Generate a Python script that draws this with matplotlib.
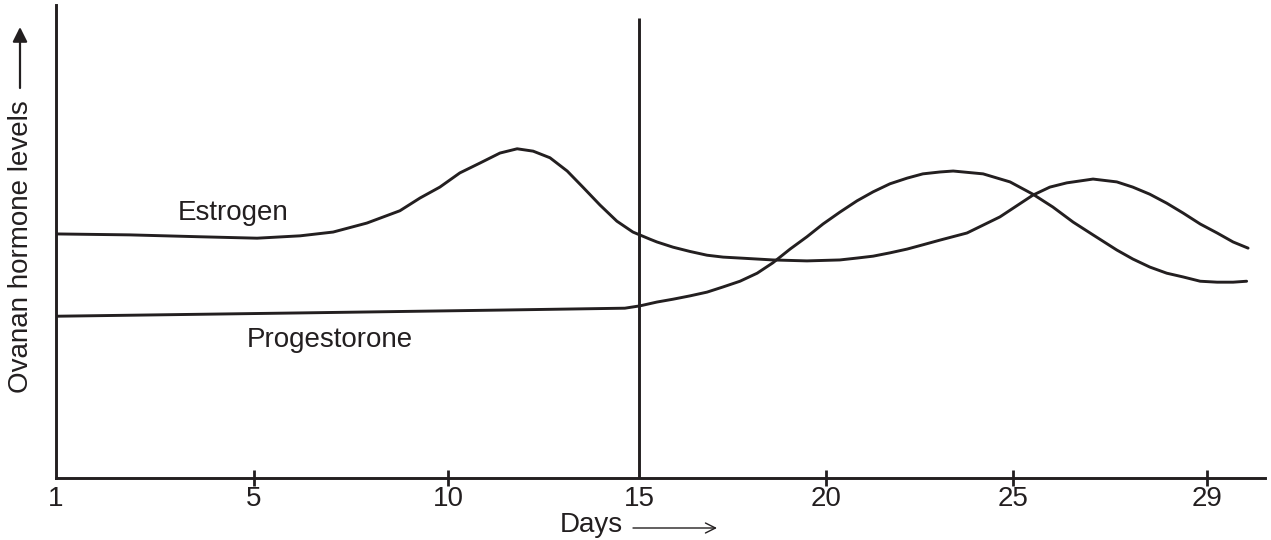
import numpy as np
import matplotlib
matplotlib.use('Agg')
import matplotlib.pyplot as plt

plt.rcParams['font.family'] = ['Liberation Sans', 'DejaVu Sans']

# jours du cycle (axe x)
tick_days = [1, 5, 10, 15, 20, 25, 29]
tick_labels = ['1', '5', '10', '15', '20', '25', '29']
ovulation_day = 15

# niveaux relatifs (0 = axe, 100 = haut)
estrogen_days = [1.0, 2.49, 3.91, 5.08, 6.19, 7.04, 7.91, 8.76, 9.28, 9.79,
                 10.31, 10.84, 11.36, 11.81, 12.23, 12.67, 13.12, 13.53, 13.98,
                 14.42, 14.84, 15.29, 15.48, 15.91, 16.36, 16.82, 17.25, 17.70,
                 18.58, 19.49, 20.37, 20.83, 21.26, 21.71, 22.17, 22.59, 23.05,
                 23.77, 24.65, 25.41, 25.76, 26.11, 26.65, 27.14, 27.47, 27.82,
                 28.17, 28.51, 28.86, 29.21, 29.54, 29.85]
estrogen_level = [51.6, 51.4, 51.0, 50.7, 51.2, 52.0, 53.9, 56.5, 59.2, 61.5,
                  64.5, 66.6, 68.7, 69.6, 69.1, 67.7, 64.9, 61.5, 57.7,
                  54.3, 52.0, 50.5, 49.9, 48.8, 47.9, 47.1, 46.7, 46.5,
                  46.1, 45.9, 46.1, 46.5, 46.9, 47.6, 48.4, 49.3, 50.3,
                  51.8, 55.2, 59.8, 61.5, 62.4, 63.2, 62.6, 61.5, 60.0,
                  58.1, 56.0, 53.7, 51.8, 49.9, 48.6]

progesterone_days = [1.0, 6.19, 11.36, 14.63, 15.03, 15.48, 15.91, 16.36, 16.82,
                     17.25, 17.70, 18.16, 18.58, 19.04, 19.49, 19.92, 20.37,
                     20.83, 21.26, 21.71, 22.17, 22.59, 23.05, 23.40, 24.20,
                     24.92, 25.41, 25.82, 26.24, 26.65, 27.14, 27.47, 27.82,
                     28.17, 28.51, 28.86, 29.21, 29.54, 29.82]
progesterone_level = [34.2, 34.9, 35.5, 35.9, 36.4, 37.2, 37.8, 38.5, 39.3,
                      40.4, 41.6, 43.3, 45.5, 48.4, 51.0, 53.7, 56.2,
                      58.6, 60.5, 62.2, 63.4, 64.3, 64.7, 64.9, 64.3,
                      62.6, 60.0, 57.3, 54.1, 51.4, 48.2, 46.3, 44.6,
                      43.3, 42.5, 41.6, 41.4, 41.4, 41.6]

# espacement irrégulier des graduations sur le dessin original
axis_days = [1, 5, 10, 15, 20, 25, 29, 30.2]
axis_pos = [0, 198, 392, 583, 770, 957, 1151, 1209]


def forward(d):
    return np.interp(d, axis_days, axis_pos)


def inverse(p):
    return np.interp(p, axis_pos, axis_days)


ink = '#231f20'
W, H = 1271, 540

fig = plt.figure(figsize=(W / 100, H / 100), dpi=100)
ax = fig.add_axes([56 / W, 62 / H, 1209 / W, 473 / H])
ax.set_xscale('function', functions=(forward, inverse))
ax.set_xlim(1, 30.2)
ax.set_ylim(0, 100)

ax.plot(estrogen_days, estrogen_level, color=ink, lw=2.1,
        solid_joinstyle='round', solid_capstyle='round')
ax.plot(progesterone_days, progesterone_level, color=ink, lw=2.1,
        solid_joinstyle='round', solid_capstyle='round')
ax.vlines(ovulation_day, 0, 97.3, color=ink, lw=2.1)

ax.text(4.58, 56.0, 'Estrogen', ha='center', va='center', fontsize=20, color=ink)
ax.text(6.96, 29.2, 'Progestorone', ha='center', va='center', fontsize=20, color=ink)

for s in ['top', 'right']:
    ax.spines[s].set_visible(False)
for s in ['left', 'bottom']:
    ax.spines[s].set_linewidth(2.1)
    ax.spines[s].set_color(ink)

ax.set_yticks([])
ax.set_xticks(tick_days)
ax.set_xticklabels(tick_labels)
ax.xaxis.set_minor_locator(matplotlib.ticker.NullLocator())
ax.tick_params(axis='x', direction='inout', length=11.5, width=2, color=ink,
               labelsize=20, labelcolor=ink, pad=0)
ticks = ax.xaxis.get_major_ticks()
ticks[0].tick1line.set_visible(False)
ticks[3].tick1line.set_visible(False)

# titres des axes avec flèches
fig.text(21 / W, 1 - 247 / H, 'Ovanan hormone levels', rotation=90,
         ha='center', va='center', fontsize=20, color=ink)
ax.annotate('', xy=(20, H - 27), xytext=(20, H - 88), xycoords='figure pixels',
            textcoords='figure pixels',
            arrowprops=dict(arrowstyle='-|>', lw=1.6, color=ink, mutation_scale=22,
                            shrinkA=0, shrinkB=0))
fig.text(591 / W, 1 - 525 / H, 'Days', ha='center', va='center', fontsize=20, color=ink)
ax.annotate('', xy=(717, H - 528), xytext=(633, H - 528), xycoords='figure pixels',
            textcoords='figure pixels',
            arrowprops=dict(arrowstyle='->', lw=1.0, color=ink, mutation_scale=18,
                            shrinkA=0, shrinkB=0))

fig.savefig('out.png', dpi=100)
